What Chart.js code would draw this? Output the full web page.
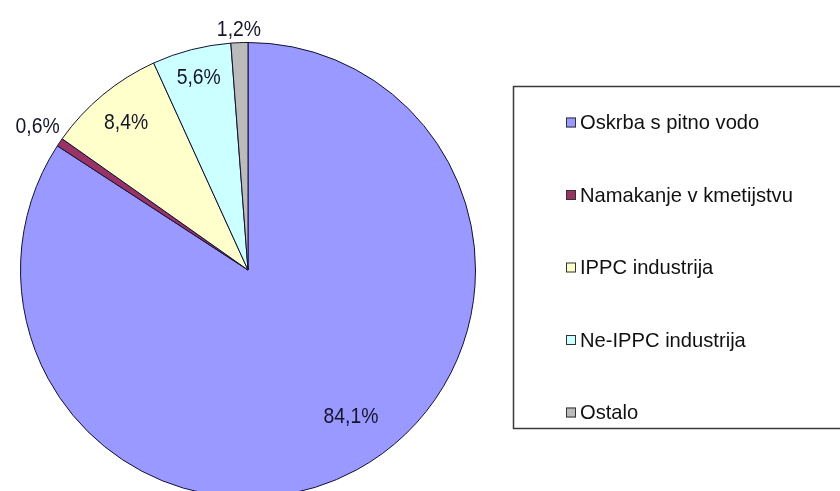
<!DOCTYPE html>
<html>
<head>
<meta charset="utf-8">
<script src="https://cdn.jsdelivr.net/npm/chart.js@4/dist/chart.umd.min.js"></script>
<style>
  html, body { margin: 0; padding: 0; background: #fff; overflow: hidden; width: 840px; height: 491px; }
  #wrap { width: 840px; height: 540px; }
</style>
</head>
<body>
<div id="wrap"><canvas id="c" width="840" height="540"></canvas></div>
<script>
const categories = ['Oskrba s pitno vodo', 'Namakanje v kmetijstvu', 'IPPC industrija', 'Ne-IPPC industrija', 'Ostalo'];
const shares = [84.1, 0.6, 8.4, 5.6, 1.2];
const sliceColors = ['#9999ff', '#993366', '#ffffcc', '#ccffff', '#bbbbbb'];

// label placement styling (fraction of radius for inside labels, null = outside)
const labelRadius = [0.79, null, 0.84, 0.87, null];
const labelAngleShift = [-6.5, 0, 0, 0, 0];

const FONT = '"Liberation Sans", Arial, sans-serif';

function condensedText(ctx, txt, x, y, sx) {
  ctx.save();
  ctx.translate(x, y);
  ctx.scale(sx, 1);
  ctx.fillText(txt, 0, 0);
  ctx.restore();
}

const pctLabels = {
  id: 'pctLabels',
  afterDatasetsDraw(chart) {
    const ctx = chart.ctx;
    const meta = chart.getDatasetMeta(0);
    const sx = 0.88;
    ctx.save();
    ctx.font = '22px ' + FONT;
    ctx.fillStyle = '#15152a';
    ctx.textAlign = 'center';
    ctx.textBaseline = 'middle';
    meta.data.forEach((arc, i) => {
      const p = arc.getProps(['x', 'y', 'startAngle', 'endAngle', 'outerRadius'], true);
      const v = chart.data.datasets[0].data[i];
      const txt = v.toFixed(1).replace('.', ',') + '%';
      const a = (p.startAngle + p.endAngle) / 2 + labelAngleShift[i] * Math.PI / 180;
      let d;
      if (labelRadius[i] !== null) {
        d = p.outerRadius * labelRadius[i];
      } else {
        const tw = ctx.measureText(txt).width * sx;
        d = p.outerRadius + 4 + Math.abs(Math.cos(a)) * tw / 2 + Math.abs(Math.sin(a)) * 8;
      }
      condensedText(ctx, txt, p.x + Math.cos(a) * d, p.y + Math.sin(a) * d, sx);
    });
    ctx.restore();
  }
};

const boxLegend = {
  id: 'boxLegend',
  afterDraw(chart) {
    const ctx = chart.ctx;
    ctx.save();
    ctx.strokeStyle = '#3a3a3a';
    ctx.lineWidth = 1.5;
    ctx.strokeRect(513.5, 86.5, 340, 342);
    ctx.font = '21px ' + FONT;
    ctx.textAlign = 'left';
    ctx.textBaseline = 'middle';
    const colors = chart.data.datasets[0].backgroundColor;
    chart.data.labels.forEach((lab, i) => {
      const cy = 122.5 + i * 72.5;
      ctx.fillStyle = colors[i];
      ctx.fillRect(566, cy - 5, 10, 10);
      ctx.strokeStyle = '#333';
      ctx.lineWidth = 1;
      ctx.strokeRect(566.5, cy - 4.5, 9, 9);
      ctx.fillStyle = '#111';
      condensedText(ctx, lab, 580, cy + 1, 0.96);
    });
    ctx.restore();
  }
};

new Chart(document.getElementById('c'), {
  type: 'pie',
  data: {
    labels: categories,
    datasets: [{
      data: shares,
      backgroundColor: sliceColors,
      borderColor: '#111133',
      borderWidth: 1
    }]
  },
  options: {
    responsive: false,
    animation: false,
    layout: { padding: { left: 20, top: 42, right: 364, bottom: 42 } },
    plugins: { legend: { display: false }, tooltip: { enabled: false } }
  },
  plugins: [pctLabels, boxLegend]
});
</script>
</body>
</html>
